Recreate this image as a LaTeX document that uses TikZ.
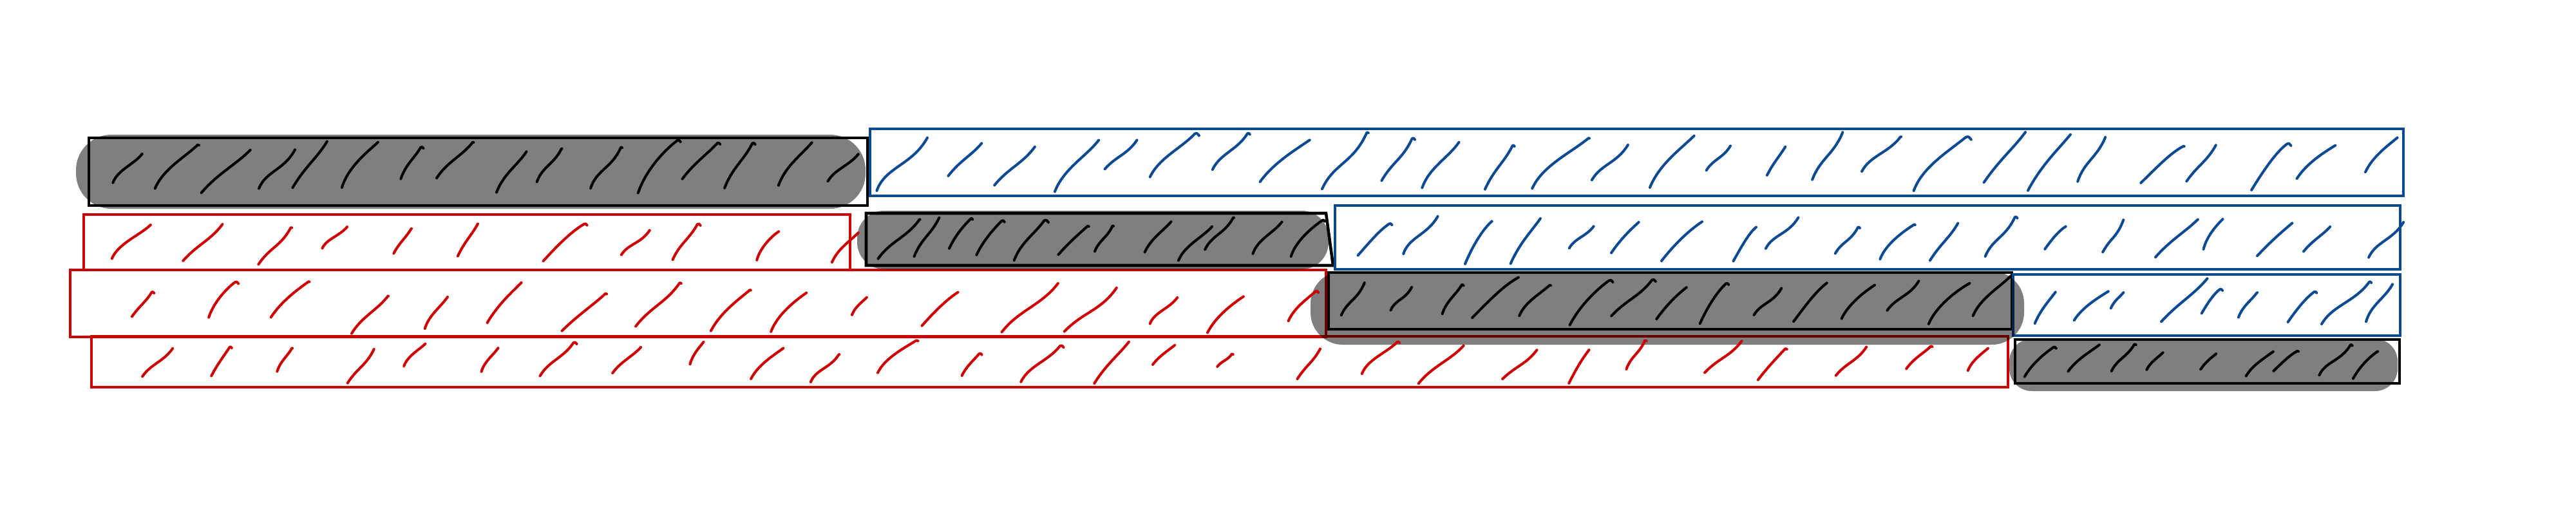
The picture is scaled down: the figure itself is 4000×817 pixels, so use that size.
\documentclass[tikz,border=0pt]{standalone}
\definecolor{pblue}{RGB}{11,74,145}
\definecolor{pred}{RGB}{204,0,0}
\tikzset{
  boxk/.style={draw=black, line width=1.3pt},
  boxb/.style={draw=pblue, line width=1.2pt},
  boxr/.style={draw=pred, line width=1.2pt},
  blob/.style={fill=black, fill opacity=0.5, draw=none},
  scr/.style={line width=1.15pt, line cap=round, line join=round},
}
% #1 colour, #2 first start x, #3 last start x, #4 count, #5/#6 top range, #7/#8 bottom range
\newcommand\scribrow[8]{%
  \foreach \i in {1,...,#4}{%
    \pgfmathsetmacro\xx{#2+(#3-#2)/(#4-1)*(\i-1)+(rnd-0.5)*34}%
    \pgfmathsetmacro\yt{#5+(#6-#5)*rnd}%
    \pgfmathsetmacro\yb{#7+(#8-#7)*rnd}%
    \pgfmathsetmacro\hh{\yb-\yt}%
    \pgfmathsetmacro\ww{\hh*(0.6+0.6*rnd)}%
    \pgfmathsetmacro\aa{0.15+0.25*rnd}%
    \pgfmathsetmacro\dd{0.15+0.4*rnd}%
    \pgfmathsetmacro\hk{max(0,rnd-0.6)*0.3*\hh}%
    \draw[scr,#1] (\xx,\yb) .. controls (\xx+\aa*\ww,\yb-0.45*\hh) and (\xx+0.7*\ww,\yt+\dd*\hh) .. (\xx+\ww,\yt)
      .. controls (\xx+\ww+0.5*\hk,\yt-0.2*\hk) .. (\xx+\ww+\hk,\yt+0.4*\hk);
  }}
\begin{document}
\begin{tikzpicture}[x=0.01cm,y=-0.01cm]
\useasboundingbox (0,0) rectangle (4000,817);
% boxes
\draw[boxk] (138,214) rectangle (1347,319);
\draw[boxb] (1351,200) rectangle (3732,304);
\draw[boxr] (130,333) rectangle (1320,419);
\draw[boxk] (1345,331) -- (2059,331) -- (2070,412) -- (1345,412) -- cycle;
\draw[boxb] (2073,319) rectangle (3727,418);
\draw[boxr] (109,419) rectangle (2059,523);
\draw[boxk] (2063,423) rectangle (3124,511);
\draw[boxb] (3126,426) rectangle (3727,521);
\draw[boxr] (142,522) rectangle (3118,601);
\draw[boxk] (3129,527) rectangle (3726,595);
% shaded blobs
\fill[blob, rounded corners=0.55cm] (118,209) rectangle (1344,324);
\fill[blob, rounded corners=0.42cm] (1331,327) rectangle (2063,418);
\fill[blob, rounded corners=0.5cm] (2035,421) rectangle (3143,535);
\fill[blob, rounded corners=0.35cm] (3120,526) rectangle (3723,607);
% scribbles
\pgfmathsetseed{11}
\scribrow{black}{170}{1290}{16}{218}{240}{272}{305}
\pgfmathsetseed{23}
\scribrow{pblue}{1378}{3665}{28}{205}{228}{262}{298}
\pgfmathsetseed{37}
\scribrow{pred}{165}{1285}{11}{340}{362}{383}{412}
\pgfmathsetseed{41}
\scribrow{black}{1362}{1990}{12}{337}{352}{385}{405}
\pgfmathsetseed{53}
\scribrow{pblue}{2095}{3670}{20}{333}{355}{385}{412}
\pgfmathsetseed{67}
\scribrow{pred}{200}{2000}{17}{435}{462}{488}{518}
\pgfmathsetseed{71}
\scribrow{black}{2085}{3060}{15}{428}{450}{480}{510}
\pgfmathsetseed{83}
\scribrow{pblue}{3150}{3670}{9}{432}{455}{475}{505}
\pgfmathsetseed{97}
\scribrow{pred}{220}{3055}{28}{528}{550}{565}{598}
\pgfmathsetseed{101}
\scribrow{black}{3150}{3670}{9}{532}{550}{565}{590}
\end{tikzpicture}
\end{document}
